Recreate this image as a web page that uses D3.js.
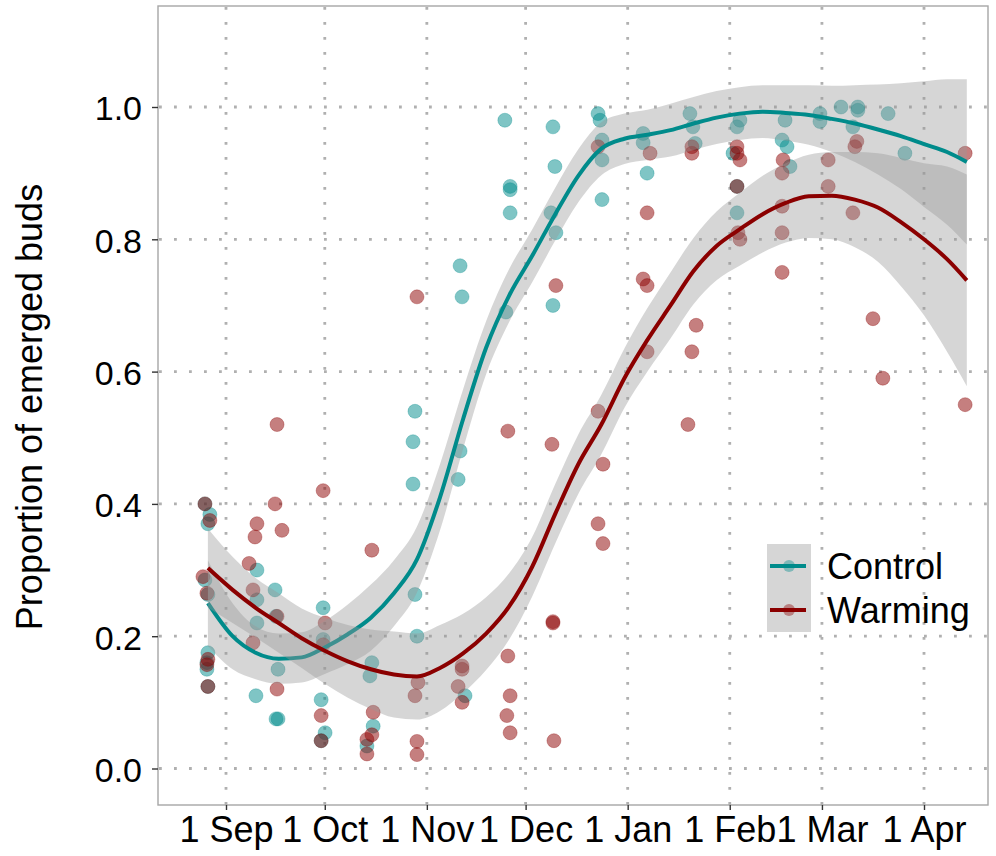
<!DOCTYPE html>
<html>
<head>
<meta charset="utf-8">
<script src="https://cdn.jsdelivr.net/npm/d3@7"></script>
<style>
  body { margin: 0; background: #fff; }
  text { font-family: "Liberation Sans", Arial, sans-serif; fill: #000; }
</style>
</head>
<body>
<script>
// days are counted from 1 Sep 2018
const curveDays = [-5.5, 2, 9, 16, 23, 30, 37, 44, 51, 58, 65, 72, 79, 86, 93, 100, 107, 114, 121, 128,
  135, 142, 149, 156, 163, 170, 177, 184, 191, 198, 205, 212, 219, 225];

// smoothed fits and their confidence half-widths
const controlFit = [0.25, 0.20, 0.175, 0.166, 0.168, 0.183, 0.203, 0.228, 0.265, 0.316, 0.41, 0.528, 0.636, 0.715,
  0.775, 0.838, 0.896, 0.937, 0.952, 0.958, 0.965, 0.975, 0.984, 0.99, 0.993, 0.991, 0.988, 0.982, 0.975,
  0.966, 0.956, 0.944, 0.932, 0.917];
const controlSe = [0.065, 0.05, 0.04, 0.038, 0.038, 0.04, 0.045, 0.05, 0.05, 0.05, 0.05, 0.045, 0.04, 0.04,
  0.04, 0.04, 0.04, 0.04, 0.038, 0.038, 0.04, 0.04, 0.04, 0.04, 0.04, 0.042, 0.045, 0.05, 0.058, 0.068,
  0.08, 0.095, 0.11, 0.125];
const warmingFit = [0.303, 0.27, 0.243, 0.22, 0.197, 0.178, 0.162, 0.15, 0.142, 0.139, 0.152, 0.174, 0.204,
  0.245, 0.305, 0.385, 0.46, 0.52, 0.59, 0.648, 0.70, 0.752, 0.79, 0.815, 0.838, 0.855, 0.865, 0.866, 0.86,
  0.848, 0.826, 0.80, 0.77, 0.738];
const warmingSe = [0.06, 0.05, 0.045, 0.045, 0.045, 0.05, 0.055, 0.06, 0.065, 0.065, 0.065, 0.06, 0.055, 0.05,
  0.045, 0.045, 0.045, 0.045, 0.045, 0.048, 0.05, 0.05, 0.052, 0.055, 0.058, 0.06, 0.063, 0.066, 0.072,
  0.082, 0.097, 0.115, 0.14, 0.16];

// observations: [day, proportion]
const controlPoints = [
  [-6.4, 0.40], [-4.9, 0.384], [-5.5, 0.37], [-6.4, 0.285], [-5.5, 0.263], [-5.5, 0.175], [-5.8, 0.16], [-5.8, 0.15], [-5.5, 0.124],
  [9.4, 0.30], [9.4, 0.255], [9.4, 0.22], [9.1, 0.11],
  [14.9, 0.27], [15.2, 0.23], [15.8, 0.15], [15.8, 0.075], [15.2, 0.075],
  [29.5, 0.243], [29.5, 0.195], [28.9, 0.104], [30.1, 0.054], [28.9, 0.042],
  [44.3, 0.16], [43.7, 0.14], [44.7, 0.064], [42.8, 0.034],
  [57.4, 0.54], [56.8, 0.494], [56.8, 0.43], [57.4, 0.263], [58.0, 0.20],
  [71.1, 0.76], [71.7, 0.713], [71.1, 0.48], [70.5, 0.437], [72.6, 0.11],
  [84.7, 0.98], [86.3, 0.88], [86.3, 0.875], [86.3, 0.84], [85.0, 0.69],
  [99.3, 0.97], [99.9, 0.91], [98.7, 0.84], [100.2, 0.81], [99.3, 0.70],
  [113.0, 0.99], [113.6, 0.98], [114.2, 0.95], [114.2, 0.92], [114.2, 0.86],
  [126.7, 0.96], [126.7, 0.946], [127.9, 0.90],
  [140.9, 0.99], [141.8, 0.97], [142.5, 0.945],
  [156.1, 0.98], [155.2, 0.97], [154.0, 0.93], [155.2, 0.88], [155.2, 0.84],
  [169.8, 0.98], [168.9, 0.95], [170.4, 0.94], [171.3, 0.91],
  [180.4, 0.99], [180.4, 0.978], [186.8, 1.0], [191.9, 1.0], [191.9, 0.995], [190.4, 0.97], [201.1, 0.99], [206.2, 0.93]
];
const warmingPoints = [
  [-6.4, 0.40], [-4.9, 0.375], [-7.0, 0.29], [-5.8, 0.265], [-5.5, 0.165], [-5.8, 0.157], [-5.5, 0.124],
  [9.4, 0.37], [8.8, 0.35], [7.0, 0.31], [8.2, 0.27], [8.2, 0.19],
  [15.5, 0.52], [14.9, 0.40], [17.0, 0.36], [15.5, 0.23], [15.5, 0.12],
  [29.5, 0.42], [30.1, 0.22], [29.5, 0.187], [28.9, 0.08], [28.9, 0.042],
  [44.3, 0.33], [44.7, 0.085], [44.3, 0.051], [42.8, 0.044], [42.8, 0.022],
  [58.0, 0.713], [58.3, 0.13], [57.4, 0.11], [58.0, 0.041], [58.0, 0.021],
  [71.7, 0.155], [71.7, 0.15], [70.5, 0.124], [71.7, 0.10],
  [85.6, 0.51], [85.6, 0.17], [86.3, 0.11], [85.3, 0.08], [86.3, 0.054],
  [100.2, 0.73], [99.0, 0.49], [99.3, 0.222], [99.3, 0.22], [99.6, 0.042],
  [113.0, 0.94], [113.0, 0.54], [114.5, 0.46], [113.0, 0.37], [114.5, 0.34],
  [128.8, 0.93], [127.9, 0.84], [126.7, 0.74], [127.9, 0.73], [127.9, 0.63],
  [141.5, 0.94], [141.5, 0.93], [142.8, 0.67], [141.5, 0.63], [140.3, 0.52],
  [155.2, 0.94], [155.2, 0.93], [156.1, 0.92], [155.2, 0.88], [155.5, 0.81], [156.1, 0.80],
  [169.2, 0.92], [168.9, 0.90], [168.9, 0.85], [168.9, 0.81], [168.9, 0.75],
  [191.6, 0.948], [191.0, 0.94], [182.9, 0.92], [182.9, 0.88], [190.4, 0.84], [196.5, 0.68], [199.5, 0.59],
  [224.5, 0.93], [224.5, 0.55]
];

const monthTicks = ["2018-09-01", "2018-10-01", "2018-11-01", "2018-12-01", "2019-01-01", "2019-02-01", "2019-03-01", "2019-04-01"];
const monthLabels = ["1 Sep", "1 Oct", "1 Nov", "1 Dec", "1 Jan", "1 Feb", "1 Mar", "1 Apr"];
const yTicks = [0, 0.2, 0.4, 0.6, 0.8, 1.0];
const groups = ["Control", "Warming"];
const groupColors = ["#008b8b", "#8b0000"];

const width = 996, height = 856;
const panel = { left: 158, right: 988, top: 6, bottom: 805 };

const start = Date.UTC(2018, 8, 1);
const toDate = d => new Date(start + d * 864e5);
const parse = d3.utcParse("%Y-%m-%d");

const x = d3.scaleUtc()
  .domain([parse("2018-09-01"), parse("2019-04-01")])
  .range([226, 924]);
const y = d3.scaleLinear()
  .domain([0, 1])
  .range([768.5, 107]);

const svg = d3.select("body").append("svg")
  .attr("width", width)
  .attr("height", height);

svg.append("clipPath").attr("id", "clip")
  .append("rect")
  .attr("x", panel.left).attr("y", panel.top)
  .attr("width", panel.right - panel.left).attr("height", panel.bottom - panel.top);

// dotted grid
const grid = svg.append("g").attr("stroke", "#b0b0b0").attr("stroke-width", 2.8)
  .attr("stroke-dasharray", "2.8,12.2");
grid.selectAll("line.v").data(monthTicks).join("line")
  .attr("x1", d => x(parse(d))).attr("x2", d => x(parse(d)))
  .attr("y1", panel.top + 1).attr("y2", panel.bottom);
grid.selectAll("line.h").data(yTicks).join("line")
  .attr("y1", d => y(d)).attr("y2", d => y(d))
  .attr("x1", panel.left + 1).attr("x2", panel.right);

const plot = svg.append("g").attr("clip-path", "url(#clip)");

// points
[controlPoints, warmingPoints].forEach((pts, i) => {
  plot.append("g").selectAll("circle").data(pts).join("circle")
    .attr("cx", d => x(toDate(d[0])))
    .attr("cy", d => y(d[1]))
    .attr("r", 7)
    .attr("fill", groupColors[i])
    .attr("fill-opacity", 0.5)
    .attr("stroke", groupColors[i])
    .attr("stroke-opacity", 0.3)
    .attr("stroke-width", 1);
});

// smooth ribbons and lines
const series = [
  { fit: controlFit, se: controlSe },
  { fit: warmingFit, se: warmingSe }
];
series.forEach((s, i) => {
  const rows = curveDays.map((d, j) => ({ date: toDate(d), fit: s.fit[j], se: s.se[j] }));
  plot.append("path")
    .datum(rows)
    .attr("fill", "#999999")
    .attr("fill-opacity", 0.4)
    .attr("d", d3.area()
      .curve(d3.curveMonotoneX)
      .x(d => x(d.date))
      .y0(d => y(d.fit - d.se))
      .y1(d => y(d.fit + d.se)));
  plot.append("path")
    .datum(rows)
    .attr("fill", "none")
    .attr("stroke", groupColors[i])
    .attr("stroke-width", 4)
    .attr("d", d3.line()
      .curve(d3.curveMonotoneX)
      .x(d => x(d.date))
      .y(d => y(d.fit)));
});

// panel border
svg.append("rect")
  .attr("x", panel.left).attr("y", panel.top)
  .attr("width", panel.right - panel.left).attr("height", panel.bottom - panel.top)
  .attr("fill", "none").attr("stroke", "#a6a6a6").attr("stroke-width", 1.4);

// axes
const xAxis = svg.append("g")
  .attr("transform", `translate(0,${panel.bottom})`)
  .call(d3.axisBottom(x).tickValues(monthTicks.map(parse))
    .tickFormat((d, i) => monthLabels[i]).tickSize(5).tickPadding(6));
xAxis.select(".domain").remove();
xAxis.selectAll("line").attr("stroke", "#333").attr("stroke-width", 1.4);
xAxis.selectAll("text").attr("font-size", 36).attr("fill", "#000")
  .style("font-family", '"Liberation Sans", Arial, sans-serif');

const yAxis = svg.append("g")
  .attr("transform", `translate(${panel.left},0)`)
  .call(d3.axisLeft(y).tickValues(yTicks).tickFormat(d3.format(".1f")).tickSize(6).tickPadding(10));
yAxis.select(".domain").remove();
yAxis.selectAll("line").attr("stroke", "#333").attr("stroke-width", 1.4);
yAxis.selectAll("text").attr("font-size", 34).attr("fill", "#000").attr("dy", "0.38em")
  .style("font-family", '"Liberation Sans", Arial, sans-serif');

svg.append("text")
  .attr("transform", "translate(42,407) rotate(-90)")
  .attr("text-anchor", "middle")
  .attr("font-size", 36)
  .text("Proportion of emerged buds");

// legend
const legend = svg.append("g").attr("transform", "translate(767,544)");
groups.forEach((g, i) => {
  const row = legend.append("g").attr("transform", `translate(0,${i * 44})`);
  row.append("rect").attr("width", 44).attr("height", 44).attr("fill", "#d6d6d6");
  row.append("circle").attr("cx", 22).attr("cy", 22).attr("r", 6)
    .attr("fill", groupColors[i]).attr("fill-opacity", 0.4);
  row.append("line").attr("x1", 3).attr("x2", 39).attr("y1", 22).attr("y2", 22)
    .attr("stroke", groupColors[i]).attr("stroke-width", 4);
  row.append("text").attr("x", 60).attr("y", 22).attr("dy", "0.36em")
    .attr("font-size", 36).text(g);
});
</script>
</body>
</html>
